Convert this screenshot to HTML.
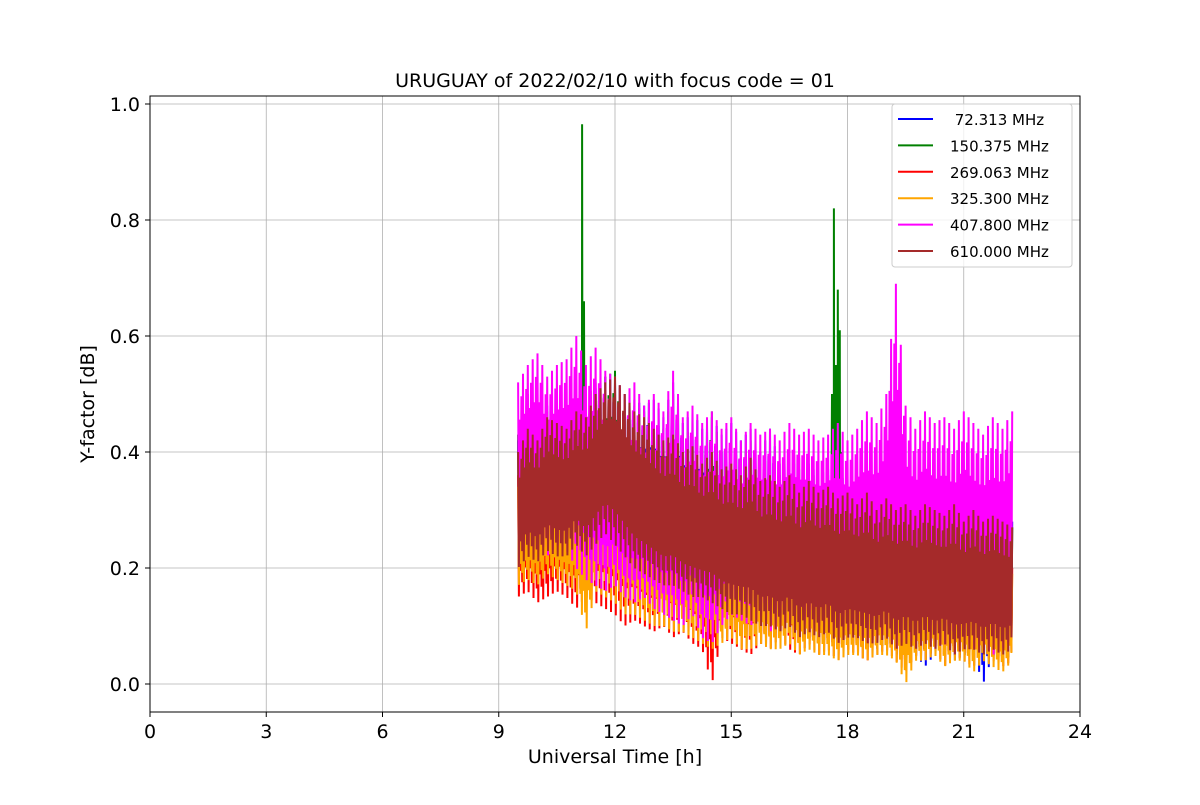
<!DOCTYPE html>
<html><head><meta charset="utf-8"><style>
body{margin:0;background:#fff}
svg text{font-family:"DejaVu Sans","Liberation Sans",sans-serif;fill:#000}
</style></head><body>
<svg id="chart" width="1200" height="800">
<rect x="0" y="0" width="1200" height="800" fill="#fff"/>
<g id="grid"></g>
<g id="series"></g>
<rect x="150" y="96" width="930" height="616" fill="none" stroke="#000" stroke-width="1"/>
<g id="ticks"></g>
<text x="615" y="87" font-size="19" text-anchor="middle">URUGUAY of 2022/02/10 with focus code = 01</text>
<text x="615" y="763" font-size="19" text-anchor="middle">Universal Time [h]</text>
<text x="94" y="404" font-size="19" text-anchor="middle" transform="rotate(-90 94 404)">Y-factor [dB]</text>
<g id="legend"></g>
</svg>
<script>
const labels=[" 72.313 MHz","150.375 MHz","269.063 MHz","325.300 MHz","407.800 MHz","610.000 MHz"];
const colors=["blue","green","red","orange","magenta","#a52a2a"];
const xTicks=[0,3,6,9,12,15,18,21,24];
const yTicks=[0.0,0.2,0.4,0.6,0.8,1.0];
const tStart=9.5, tStep=0.25;
const blueHi=[0.42,0.46,0.44,0.48,0.47,0.46,0.50,0.48,0.51,0.53,0.52,0.50,0.49,0.48,0.49,0.46,0.52,0.45,0.47,0.44,0.46,0.43,0.45,0.42,0.44,0.40,0.44,0.38,0.39,0.37,0.38,0.36,0.37,0.35,0.36,0.34,0.35,0.33,0.34,0.32,0.33,0.31,0.32,0.31,0.30,0.32,0.29,0.31,0.29,0.30,0.29,0.28];
const blueLo=[0.21,0.23,0.22,0.22,0.21,0.22,0.23,0.21,0.22,0.23,0.22,0.20,0.19,0.18,0.17,0.16,0.16,0.15,0.14,0.13,0.12,0.12,0.11,0.11,0.10,0.09,0.10,0.08,0.09,0.08,0.08,0.07,0.08,0.07,0.07,0.07,0.06,0.06,0.07,0.05,0.06,0.05,0.03,0.05,0.06,0.04,0.05,0.05,0.0,0.05,0.04,0.05];
const greenHi=[0.43,0.50,0.45,0.47,0.46,0.48,0.50,0.49,0.52,0.53,0.54,0.49,0.48,0.47,0.45,0.44,0.50,0.43,0.44,0.41,0.47,0.40,0.41,0.38,0.42,0.38,0.39,0.36,0.40,0.39,0.37,0.35,0.36,0.34,0.33,0.32,0.34,0.31,0.33,0.30,0.32,0.30,0.31,0.30,0.29,0.30,0.28,0.29,0.28,0.29,0.27,0.27];
const greenLo=[0.20,0.22,0.21,0.22,0.22,0.22,0.23,0.21,0.23,0.24,0.23,0.21,0.20,0.19,0.18,0.17,0.16,0.16,0.15,0.14,0.13,0.12,0.12,0.11,0.10,0.10,0.10,0.09,0.09,0.08,0.09,0.07,0.08,0.07,0.08,0.07,0.07,0.06,0.07,0.06,0.06,0.06,0.06,0.05,0.06,0.05,0.05,0.05,0.05,0.05,0.04,0.05];
const greenSpikeT=[11.1,11.15,11.2,17.6,17.65,17.7,17.75,17.8,17.85];
const greenSpikeV=[0.45,0.965,0.66,0.5,0.82,0.55,0.68,0.61,0.40];
const redHi=[0.36,0.38,0.37,0.39,0.38,0.38,0.40,0.39,0.42,0.44,0.44,0.42,0.40,0.38,0.37,0.35,0.36,0.33,0.34,0.31,0.33,0.30,0.31,0.29,0.31,0.28,0.29,0.27,0.28,0.26,0.27,0.25,0.26,0.25,0.25,0.24,0.25,0.23,0.24,0.23,0.23,0.22,0.23,0.22,0.22,0.22,0.21,0.22,0.21,0.21,0.20,0.20];
const redLo=[0.15,0.16,0.14,0.15,0.16,0.15,0.13,0.15,0.14,0.13,0.12,0.10,0.11,0.10,0.09,0.10,0.08,0.09,0.07,0.06,0.0,0.08,0.07,0.06,0.05,0.07,0.06,0.08,0.06,0.05,0.07,0.05,0.06,0.04,0.06,0.05,0.04,0.05,0.06,0.04,0.02,0.05,0.04,0.06,0.03,0.05,0.04,0.03,0.05,0.04,0.03,0.04];
const orangeHi=[0.34,0.36,0.35,0.37,0.36,0.36,0.38,0.37,0.40,0.42,0.42,0.40,0.38,0.36,0.35,0.33,0.34,0.31,0.32,0.30,0.31,0.28,0.29,0.27,0.29,0.26,0.27,0.25,0.26,0.24,0.25,0.24,0.24,0.23,0.23,0.22,0.23,0.22,0.22,0.21,0.21,0.21,0.21,0.20,0.20,0.20,0.20,0.20,0.19,0.19,0.19,0.19];
const orangeLo=[0.17,0.18,0.17,0.19,0.18,0.17,0.16,0.09,0.16,0.15,0.14,0.12,0.12,0.11,0.10,0.10,0.09,0.09,0.08,0.07,0.06,0.07,0.08,0.06,0.06,0.07,0.06,0.06,0.07,0.05,0.06,0.05,0.05,0.04,0.05,0.05,0.04,0.05,0.05,0.04,0.0,0.04,0.04,0.05,0.03,0.04,0.04,0.02,0.04,0.03,0.02,0.04];
const magentaHi=[0.52,0.55,0.57,0.53,0.55,0.56,0.60,0.55,0.58,0.54,0.53,0.50,0.52,0.48,0.50,0.47,0.54,0.46,0.48,0.45,0.47,0.44,0.46,0.42,0.45,0.43,0.44,0.42,0.45,0.43,0.44,0.42,0.43,0.45,0.42,0.44,0.47,0.45,0.50,0.69,0.48,0.44,0.47,0.45,0.46,0.44,0.47,0.45,0.43,0.46,0.44,0.47];
const magentaLo=[0.25,0.24,0.26,0.22,0.24,0.23,0.20,0.18,0.17,0.16,0.17,0.15,0.14,0.15,0.13,0.12,0.11,0.10,0.12,0.08,0.07,0.10,0.12,0.11,0.10,0.12,0.09,0.10,0.11,0.12,0.09,0.10,0.11,0.08,0.09,0.10,0.07,0.08,0.09,0.06,0.08,0.07,0.09,0.06,0.07,0.05,0.08,0.06,0.07,0.05,0.06,0.08];
const brownHi=[0.40,0.44,0.42,0.46,0.45,0.44,0.47,0.46,0.50,0.52,0.53,0.50,0.47,0.46,0.44,0.42,0.43,0.40,0.41,0.38,0.40,0.37,0.38,0.36,0.39,0.35,0.36,0.34,0.36,0.33,0.35,0.33,0.34,0.32,0.33,0.31,0.33,0.30,0.32,0.30,0.31,0.29,0.31,0.30,0.29,0.31,0.28,0.30,0.28,0.29,0.28,0.27];
const brownLo=[0.20,0.22,0.21,0.23,0.22,0.22,0.24,0.22,0.24,0.26,0.24,0.22,0.20,0.19,0.18,0.17,0.17,0.16,0.15,0.15,0.14,0.13,0.12,0.12,0.11,0.10,0.10,0.09,0.10,0.08,0.09,0.08,0.09,0.07,0.08,0.08,0.07,0.07,0.08,0.06,0.07,0.06,0.07,0.06,0.07,0.05,0.06,0.06,0.05,0.06,0.05,0.06];

const NS="http://www.w3.org/2000/svg";
const X=t=>150+t*(930/24);
const Y=v=>684-v*580;
function mk(tag,parent,attrs){const e=document.createElementNS(NS,tag);for(const k in attrs)e.setAttribute(k,attrs[k]);parent.appendChild(e);return e;}
const grid=document.getElementById('grid'),ticks=document.getElementById('ticks');
xTicks.forEach(t=>{
  const g=mk('line',grid,{x1:X(t),x2:X(t),y1:96,y2:712,stroke:'#b0b0b0','stroke-width':0.8});
  
  
  const tk=mk('line',ticks,{x1:X(t),x2:X(t),y1:712,y2:717,stroke:'#000'});
  
  
  const tx=mk('text',ticks,{x:X(t),y:738,'font-size':19,'text-anchor':'middle'});
  tx.textContent=t;
  
  
});
yTicks.forEach(v=>{
  const g=mk('line',grid,{x1:150,x2:1080,y1:Y(v),y2:Y(v),stroke:'#b0b0b0','stroke-width':0.8});
  
  
  const tk=mk('line',ticks,{x1:145,x2:150,y1:Y(v),y2:Y(v),stroke:'#000'});
  
  
  const tx=mk('text',ticks,{x:140,y:Y(v)+7,'font-size':19,'text-anchor':'end'});
  tx.textContent=v.toFixed(1);
  
  
});
const seriesHi=[blueHi,greenHi,redHi,orangeHi,magentaHi,brownHi];
const seriesLo=[blueLo,greenLo,redLo,orangeLo,magentaLo,brownLo];
const sg=document.getElementById('series');
const SUB=12;
seriesHi.forEach((hi,s)=>{
  const lo=seriesLo[s];const pts=[];
  const n=hi.length;
  for(let i=0;i<n;i++){
    const t=tStart+i*tStep;
    const last=(i===n-1);
    const subs=last?1:SUB;
    for(let k=0;k<subs;k++){
      const f=k/SUB;
      const h=last?hi[i]:hi[i]+(hi[i+1]-hi[i])*f;
      const l=last?lo[i]:lo[i]+(lo[i+1]-lo[i])*f;
      const tt=t+tStep*f;
      if(k%2===0){const sh=(k%6===0)?0:((k%6===2)?0.25:0.12);pts.push([tt,h-(h-l)*sh]);}
      else{const sl=(k%6===1)?0:((k%6===3)?0.2:0.1);pts.push([tt,l+(h-l)*sl]);}
    }
    if(s===1){greenSpikeT.forEach((st,k)=>{if(st>=t&&st<t+tStep){pts.push([st,greenSpikeV[k]]);pts.push([st+0.01,lo[i]+0.1]);}});}
  }
  pts.sort((a,b)=>a[0]-b[0]);
  const p=mk('polyline',sg,{points:pts.map(q=>X(q[0]).toFixed(1)+','+Y(q[1]).toFixed(1)).join(' '),fill:'none',stroke:colors[s],'stroke-width':2,'stroke-linejoin':'miter'});
  
  
});
const lg=document.getElementById('legend');
const box=mk('rect',lg,{x:892,y:104,width:180,height:163,fill:'#fff','fill-opacity':0.8,stroke:'#ccc',rx:3});


labels.forEach((l,i)=>{
  const y=119+i*26.4;
  const ln=mk('line',lg,{x1:898,x2:933,y1:y,y2:y,stroke:colors[i],'stroke-width':2});
  
  
  const tx=mk('text',lg,{x:950,y:y+6,'font-size':15});
  tx.style.whiteSpace='pre';
  tx.textContent=l;
  
  
});
</script>
</body></html>
